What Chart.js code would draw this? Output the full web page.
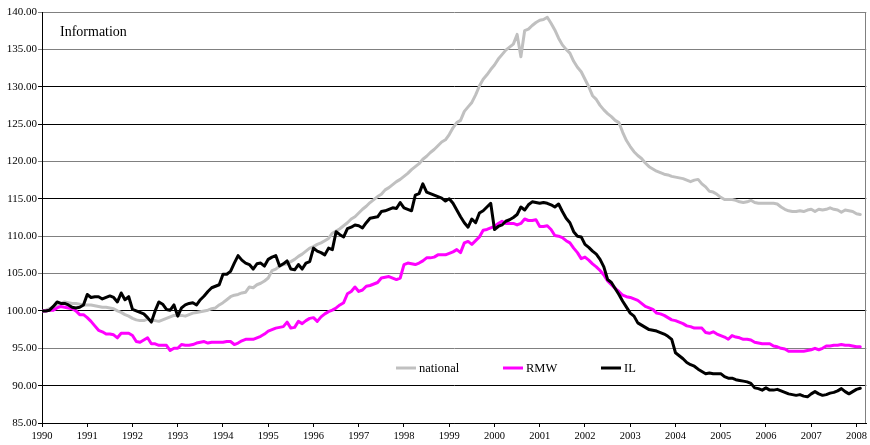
<!DOCTYPE html>
<html lang="en">
<head>
<meta charset="UTF-8">
<title>Information</title>
<script src="https://cdn.jsdelivr.net/npm/chart.js"></script>
<style>
    html, body { margin: 0; padding: 0; background: #fff; }
    #wrap { width: 870px; height: 445px; position: relative; }
</style>
</head>
<body>
<div id="wrap"><canvas id="grafico"></canvas></div>
<script>
// tick labels (one per January)
const years = ['1990', '1991', '1992', '1993', '1994', '1995', '1996', '1997', '1998', '1999',
    '2000', '2001', '2002', '2003', '2004', '2005', '2006', '2007', '2008'];

// monthly index, Jan 1990 .. Feb 2008
const national = [
    100.0, 100.1, 100.3, 100.5, 100.8, 101.0, 101.2, 101.1, 101.0, 101.0, 100.9, 100.8,
    100.8, 100.8, 100.7, 100.6, 100.5, 100.5, 100.4, 100.3, 100.0, 99.8, 99.5, 99.3,
    99.0, 98.8, 98.7, 98.7, 98.9, 98.7, 98.7, 98.6, 98.8, 99.0, 99.2, 99.4,
    99.4, 99.4, 99.3, 99.5, 99.7, 99.8, 99.9, 100.0, 100.1, 100.3, 100.4, 100.8,
    101.1, 101.5, 101.9, 102.1, 102.2, 102.4, 102.5, 103.2, 103.1, 103.5, 103.7, 104.0,
    104.4, 105.4, 105.6, 106.0, 106.2, 106.3, 106.6, 106.9, 107.3, 107.6, 108.0, 108.4,
    108.6, 108.9, 109.1, 109.4, 109.7, 110.4, 110.7, 111.0, 111.4, 111.8, 112.3, 112.6,
    113.1, 113.6, 114.0, 114.5, 114.9, 115.3, 115.6, 116.2, 116.5, 116.9, 117.3, 117.6,
    118.0, 118.4, 118.9, 119.3, 119.7, 120.3, 120.7, 121.2, 121.6, 122.1, 122.6, 122.9,
    123.6, 124.5, 125.2, 125.5, 126.7, 127.3, 127.9, 128.9, 130.1, 131.0, 131.6, 132.3,
    132.9, 133.7, 134.3, 134.9, 135.3, 135.7, 137.0, 134.0, 137.5, 137.7, 138.2, 138.6,
    138.9, 139.0, 139.3, 138.5, 137.6, 136.5, 135.6, 135.0, 134.5, 133.4, 132.6, 132.0,
    131.0, 130.0, 128.8, 128.3, 127.5, 126.9, 126.4, 126.0, 125.5, 125.2, 123.9, 122.8,
    122.0, 121.3, 120.8, 120.4, 119.8, 119.3, 119.0, 118.7, 118.5, 118.3, 118.2, 118.0,
    117.9, 117.8, 117.7, 117.5, 117.3, 117.5, 117.6, 117.0, 116.6, 116.0, 115.9, 115.6,
    115.2, 114.9, 114.9, 114.9, 114.8, 114.6, 114.5, 114.6, 114.8, 114.5, 114.4, 114.4,
    114.4, 114.4, 114.4, 114.3, 113.9, 113.6, 113.4, 113.3, 113.3, 113.4, 113.3, 113.5,
    113.6, 113.3, 113.6, 113.5, 113.6, 113.8, 113.6, 113.5, 113.2, 113.5, 113.4, 113.3,
    113.0, 112.9
];

const rmw = [
    100.0, 100.0, 100.1, 100.1, 100.4, 100.6, 100.5, 100.4, 100.3, 100.0, 99.5, 99.5,
    99.1, 98.6, 98.0, 97.4, 97.2, 96.9, 96.9, 96.8, 96.4, 97.0, 97.0, 97.0,
    96.7, 95.9, 95.8, 96.1, 96.4, 95.6, 95.6, 95.4, 95.4, 95.4, 94.7, 95.0,
    95.0, 95.5, 95.4, 95.4, 95.5, 95.7, 95.8, 95.9, 95.7, 95.8, 95.8, 95.8,
    95.8, 95.9, 95.9, 95.5, 95.7, 96.0, 96.2, 96.2, 96.2, 96.4, 96.6, 96.9,
    97.3, 97.5, 97.7, 97.8, 97.9, 98.5, 97.7, 97.8, 98.6, 98.3, 98.7, 99.0,
    99.1, 98.6, 99.2, 99.6, 99.9, 100.1, 100.4, 100.8, 101.1, 102.3, 102.6, 103.2,
    102.6, 102.8, 103.3, 103.4, 103.6, 103.8, 104.4, 104.5, 104.6, 104.4, 104.2, 104.4,
    106.2, 106.4, 106.3, 106.2, 106.4, 106.7, 107.1, 107.1, 107.2, 107.5, 107.5, 107.5,
    107.7, 107.9, 108.2, 107.8, 109.1, 109.3, 108.9, 109.4, 109.9, 110.8, 110.9, 111.1,
    111.3, 111.7, 112.0, 111.7, 111.7, 111.7, 111.5, 111.7, 112.3, 112.1, 112.1, 112.2,
    111.3, 111.3, 111.4, 110.9, 110.1, 110.0, 109.8, 109.4, 109.1, 108.4, 107.8, 107.0,
    107.2, 106.8, 106.3, 105.9, 105.4, 104.8, 104.0, 103.5, 103.0, 102.6, 102.1, 101.9,
    101.8, 101.6, 101.4, 101.0, 100.6, 100.4, 100.2, 99.7, 99.6, 99.4, 99.1, 98.8,
    98.7, 98.5, 98.3, 98.0, 97.9, 97.7, 97.7, 97.7, 97.1, 97.0, 97.2, 96.9,
    96.7, 96.5, 96.2, 96.7, 96.5, 96.4, 96.2, 96.2, 96.1, 95.8, 95.7, 95.6,
    95.6, 95.6, 95.3, 95.2, 95.0, 94.9, 94.6, 94.6, 94.6, 94.6, 94.6, 94.7,
    94.8, 95.0, 94.8, 95.0, 95.3, 95.3, 95.4, 95.4, 95.5, 95.4, 95.4, 95.3,
    95.2, 95.2
];

const il = [
    100.0, 100.0, 100.1, 100.6, 101.2, 101.0, 101.0, 100.8, 100.5, 100.4, 100.5, 100.8,
    102.2, 101.8, 101.9, 101.9, 101.6, 101.8, 102.0, 101.8, 101.2, 102.4, 101.5, 101.9,
    100.2, 100.0, 99.8, 99.6, 99.1, 98.5, 100.0, 101.2, 100.9, 100.2, 100.1, 100.8,
    99.3, 100.4, 100.8, 101.0, 101.1, 100.8, 101.5, 102.0, 102.6, 103.1, 103.3, 103.5,
    104.9, 104.9, 105.3, 106.4, 107.4, 106.8, 106.4, 106.2, 105.6, 106.3, 106.4, 106.0,
    106.9, 107.2, 107.4, 106.0, 106.3, 106.7, 105.6, 105.5, 106.2, 105.6, 106.4, 106.6,
    108.4, 108.0, 107.8, 107.5, 108.4, 108.2, 110.6, 110.2, 109.9, 111.0, 111.2, 111.5,
    111.4, 111.1, 111.8, 112.4, 112.5, 112.6, 113.3, 113.4, 113.6, 113.8, 113.7, 114.5,
    113.8, 113.6, 113.4, 115.5, 115.7, 117.0, 115.9, 115.7, 115.5, 115.3, 115.1, 114.7,
    115.0, 114.4, 113.5, 112.6, 111.8, 111.2, 112.3, 111.8, 113.1, 113.4, 113.9, 114.4,
    110.9, 111.3, 111.5, 112.0, 112.2, 112.5, 112.9, 113.9, 113.5, 114.2, 114.6, 114.5,
    114.4, 114.5, 114.4, 114.2, 113.9, 114.3, 113.3, 112.4, 111.8, 110.6, 110.0, 109.9,
    108.9, 108.5, 108.0, 107.6, 106.9, 105.9, 104.2, 103.8, 103.0, 102.2, 101.3, 100.5,
    99.7, 99.3, 98.4, 98.1, 97.8, 97.5, 97.4, 97.3, 97.1, 96.9, 96.6, 96.2,
    94.4, 94.0, 93.6, 93.1, 92.8, 92.6, 92.2, 91.9, 91.6, 91.7, 91.6, 91.6,
    91.6, 91.2, 91.0, 91.0, 90.8, 90.7, 90.6, 90.5, 90.3, 89.7, 89.6, 89.4,
    89.7, 89.4, 89.4, 89.5, 89.3, 89.1, 88.9, 88.8, 88.7, 88.8, 88.6, 88.5,
    88.9, 89.2, 88.9, 88.7, 88.8, 89.0, 89.1, 89.3, 89.6, 89.2, 88.9, 89.2,
    89.5, 89.65
];

const serif = "'Liberation Serif', 'DejaVu Serif', serif";
const linhasCinza = [140, 135, 120, 110, 105, 95];

function pontos(valores) {
    return valores.map((v, i) => ({ x: i, y: v }));
}

// titulo "Information", legenda dentro da area e borda direita
const extras = {
    id: 'extras',
    afterDraw(chart) {
        const ctx = chart.ctx;
        const area = chart.chartArea;
        ctx.save();

        ctx.strokeStyle = '#808080';
        ctx.lineWidth = 1;
        ctx.beginPath();
        ctx.moveTo(Math.round(area.right) - 0.5, area.top);
        ctx.lineTo(Math.round(area.right) - 0.5, area.bottom);
        ctx.stroke();

        ctx.fillStyle = '#000';
        ctx.font = '14px ' + serif;
        ctx.textBaseline = 'middle';
        ctx.fillText('Information', 60, 32);

        const itens = [
            { nome: 'national', cor: '#c0c0c0', x: 396 },
            { nome: 'RMW', cor: '#ff00ff', x: 503 },
            { nome: 'IL', cor: '#000000', x: 601 }
        ];
        ctx.font = '12.5px ' + serif;
        itens.forEach(it => {
            ctx.strokeStyle = it.cor;
            ctx.lineWidth = 3;
            ctx.beginPath();
            ctx.moveTo(it.x, 368);
            ctx.lineTo(it.x + 20, 368);
            ctx.stroke();
            ctx.fillStyle = '#000';
            ctx.fillText(it.nome, it.x + 23, 369);
        });
        ctx.restore();
    }
};

new Chart(document.getElementById('grafico'), {
    type: 'line',
    data: {
        datasets: [
            { label: 'IL', data: pontos(il), borderColor: '#000000', order: 0 },
            { label: 'RMW', data: pontos(rmw), borderColor: '#ff00ff', order: 1 },
            { label: 'national', data: pontos(national), borderColor: '#c0c0c0', order: 2 }
        ]
    },
    options: {
        responsive: true,
        maintainAspectRatio: false,
        animation: false,
        events: [],
        layout: { padding: { left: 0, right: 2, top: 12, bottom: 0 } },
        elements: {
            point: { radius: 0 },
            line: { borderWidth: 3, tension: 0, borderJoinStyle: 'round', borderCapStyle: 'round' }
        },
        plugins: {
            legend: { display: false },
            tooltip: { enabled: false }
        },
        scales: {
            x: {
                type: 'linear',
                min: 0,
                max: 218.6,
                afterBuildTicks(scale) {
                    scale.ticks = years.map((_, i) => ({ value: i * 12 }));
                },
                afterFit(scale) { scale.height = 22; },
                border: { display: true, color: '#000', width: 1 },
                grid: { drawOnChartArea: false, drawTicks: true, tickLength: 4, color: '#000' },
                ticks: {
                    autoSkip: false,
                    maxRotation: 0,
                    padding: 3,
                    color: '#000',
                    font: { family: serif, size: 10.5 },
                    callback: (v) => years[Math.round(v / 12)]
                }
            },
            y: {
                min: 85,
                max: 140,
                afterFit(scale) { scale.width = 42; },
                border: { display: true, color: '#000', width: 1 },
                grid: {
                    drawTicks: true,
                    tickLength: 4,
                    color: (c) => linhasCinza.includes(c.tick.value) ? '#808080' : '#000'
                },
                ticks: {
                    stepSize: 5,
                    padding: 1,
                    color: '#000',
                    font: { family: serif, size: 11 },
                    callback: (v) => v.toFixed(2)
                }
            }
        }
    },
    plugins: [extras]
});
</script>
</body>
</html>
